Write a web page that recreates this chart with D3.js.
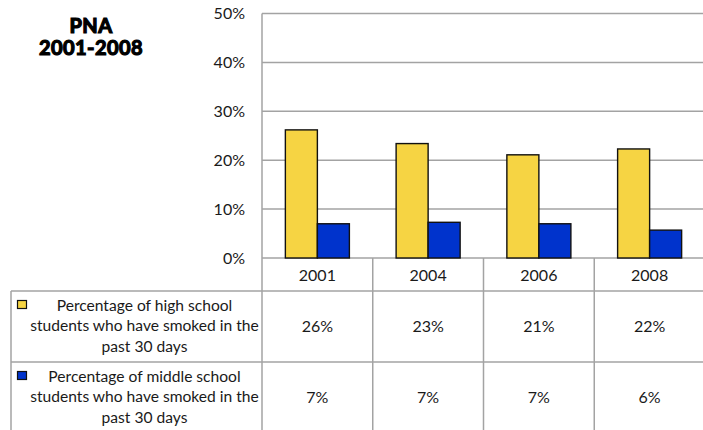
<!DOCTYPE html>
<html>
<head>
<meta charset="utf-8">
<script src="https://cdn.jsdelivr.net/npm/d3@7"></script>
<style>
  body { margin: 0; background: #fff; }
  svg text { font-family: Lato, "Open Sans", sans-serif; fill: #1a1a1a; }
</style>
</head>
<body>
<div class="chart"></div>
<script>
const years = ['2001', '2004', '2006', '2008']
const seriesLines = [
  ['Percentage of high school', 'students who have smoked in the', 'past 30 days'],
  ['Percentage of middle school', 'students who have smoked in the', 'past 30 days']
]
const highSchool = [0.262, 0.234, 0.211, 0.223]
const middleSchool = [0.070, 0.073, 0.070, 0.057]
const tableHigh = ['26%', '23%', '21%', '22%']
const tableMiddle = ['7%', '7%', '7%', '6%']
const yTicks = [0, 0.1, 0.2, 0.3, 0.4, 0.5]
const colors = ['#F6D443', '#0033CC']

const width = 703, height = 430
const margin = {top: 13.5, left: 262, right: -2, bottom: 172}
const tableRows = [258, 291, 362, 432]
const tableLeft = 11

const svg = d3.select('.chart').append('svg')
  .attr('width', width)
  .attr('height', height)

const x = d3.scaleBand()
  .domain(years)
  .range([margin.left, width - margin.right])
  .paddingInner(0).paddingOuter(0)

const xInner = d3.scaleBand()
  .domain([0, 1])
  .range([0, x.bandwidth()])
  .paddingInner(0).paddingOuter(0.73)

const y = d3.scaleLinear()
  .domain([0, 0.5])
  .range([height - margin.bottom, margin.top])

const gridColor = '#a3a3a3'

// gridlines
svg.append('g')
  .selectAll('line')
  .data(yTicks)
  .enter()
  .append('line')
  .attr('x1', margin.left)
  .attr('x2', width)
  .attr('y1', d => y(d))
  .attr('y2', d => y(d))
  .attr('stroke', gridColor)
  .attr('stroke-width', 1.5)

// y tick labels
svg.append('g')
  .selectAll('text')
  .data(yTicks)
  .enter()
  .append('text')
  .attr('x', 245)
  .attr('y', d => y(d))
  .attr('dy', '0.35em')
  .attr('text-anchor', 'end')
  .attr('font-size', '16px')
  .text(d => d3.format('.0%')(d))

// bars
const seriesData = [highSchool, middleSchool]
seriesData.forEach((vals, si) => {
  svg.append('g')
    .selectAll('rect')
    .data(vals)
    .enter()
    .append('rect')
    .attr('x', (d, i) => x(years[i]) + xInner(si))
    .attr('width', xInner.bandwidth())
    .attr('y', d => y(d))
    .attr('height', d => y(0) - y(d))
    .attr('fill', colors[si])
    .attr('stroke', '#111')
    .attr('stroke-width', 1.4)
})

// table lines
const tbl = svg.append('g').attr('stroke', gridColor).attr('stroke-width', 1.5)
tbl.selectAll('line.col')
  .data(years)
  .enter()
  .append('line')
  .attr('class', 'col')
  .attr('x1', d => x(d))
  .attr('x2', d => x(d))
  .attr('y1', (d, i) => i === 0 ? margin.top : tableRows[0])
  .attr('y2', height)
tbl.append('line')
  .attr('x1', tableLeft).attr('x2', tableLeft)
  .attr('y1', tableRows[1]).attr('y2', height)
tbl.selectAll('line.row')
  .data(tableRows.slice(1, 3))
  .enter()
  .append('line')
  .attr('class', 'row')
  .attr('x1', tableLeft)
  .attr('x2', width)
  .attr('y1', d => d)
  .attr('y2', d => d)

// header row years
svg.append('g')
  .selectAll('text')
  .data(years)
  .enter()
  .append('text')
  .attr('x', d => x(d) + x.bandwidth() / 2)
  .attr('y', (tableRows[0] + tableRows[1]) / 2 + 1)
  .attr('dy', '0.35em')
  .attr('text-anchor', 'middle')
  .attr('font-size', '16px')
  .text(d => d)

// values + legend cells
const tableVals = [tableHigh, tableMiddle]
tableVals.forEach((vals, ri) => {
  const cy = (tableRows[ri + 1] + tableRows[ri + 2]) / 2
  svg.append('g')
    .selectAll('text')
    .data(vals)
    .enter()
    .append('text')
    .attr('x', (d, i) => x(years[i]) + x.bandwidth() / 2)
    .attr('y', cy)
    .attr('dy', '0.35em')
    .attr('text-anchor', 'middle')
    .attr('font-size', '16px')
    .text(d => d)

  svg.append('rect')
    .attr('x', 17.5)
    .attr('y', tableRows[ri + 1] + 9.5)
    .attr('width', 9)
    .attr('height', 8)
    .attr('fill', colors[ri])
    .attr('stroke', '#111')
    .attr('stroke-width', 1.2)

  svg.append('g')
    .selectAll('text')
    .data(seriesLines[ri])
    .enter()
    .append('text')
    .attr('x', 144.5)
    .attr('y', (d, i) => tableRows[ri + 1] + 19.5 + i * 20.7)
    .attr('text-anchor', 'middle')
    .attr('font-size', '15.6px')
    .text(d => d)
})

// title
svg.append('g')
  .selectAll('text')
  .data(['PNA', '2001-2008'])
  .enter()
  .append('text')
  .attr('x', 91)
  .attr('y', (d, i) => 33 + i * 22)
  .attr('text-anchor', 'middle')
  .attr('font-family', '"Liberation Sans", Arial, sans-serif')
  .attr('font-weight', 'bold')
  .attr('font-size', '20px')
  .attr('letter-spacing', '0.4px')
  .style('fill', '#000')
  .attr('stroke', '#000')
  .attr('stroke-width', 1.2)
  .text(d => d)
</script>
</body>
</html>
